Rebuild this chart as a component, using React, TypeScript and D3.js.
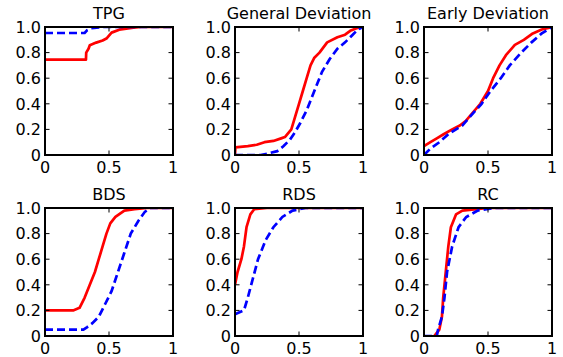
import React from "react";
import * as d3 from "d3";

const titles = ["TPG", "General Deviation", "Early Deviation", "BDS", "RDS", "RC"];
const xTicks = [0, 0.5, 1];
const xTickLabels = ["0", "0.5", "1"];
const yTicks = [0, 0.2, 0.4, 0.6, 0.8, 1.0];
const yTickLabels = ["0", "0.2", "0.4", "0.6", "0.8", "1.0"];

type P = [number, number];

const tpgRed: P[] = [[0, 0.745], [0.32, 0.745], [0.322, 0.8], [0.34, 0.83], [0.35, 0.857], [0.4, 0.878], [0.45, 0.895], [0.48, 0.91], [0.52, 0.956], [0.58, 0.979], [0.69, 0.995], [0.75, 1.0], [1, 1.0]];
const tpgBlue: P[] = [[0, 0.953], [0.31, 0.953], [0.33, 0.975], [0.36, 0.99], [0.45, 1.0], [1, 1.0]];

const gdRed: P[] = [[0, 0], [0.003, 0.06], [0.1, 0.07], [0.17, 0.08], [0.23, 0.1], [0.3, 0.11], [0.36, 0.13], [0.39, 0.14], [0.44, 0.2], [0.47, 0.3], [0.5, 0.4], [0.53, 0.5], [0.56, 0.6], [0.59, 0.7], [0.62, 0.76], [0.66, 0.8], [0.72, 0.88], [0.8, 0.92], [0.86, 0.94], [0.9, 0.97], [0.95, 0.99], [1, 1.0]];
const gdBlue: P[] = [[0, 0], [0.2, 0], [0.25, 0.01], [0.33, 0.03], [0.38, 0.07], [0.43, 0.12], [0.47, 0.18], [0.51, 0.25], [0.56, 0.35], [0.6, 0.45], [0.64, 0.55], [0.68, 0.65], [0.74, 0.75], [0.8, 0.83], [0.86, 0.88], [0.91, 0.93], [0.96, 0.98], [1, 1.0]];

const edRed: P[] = [[0, 0.07], [0.05, 0.1], [0.1, 0.13], [0.15, 0.16], [0.22, 0.2], [0.28, 0.23], [0.33, 0.27], [0.38, 0.33], [0.44, 0.4], [0.5, 0.5], [0.54, 0.6], [0.59, 0.7], [0.64, 0.78], [0.71, 0.86], [0.78, 0.9], [0.85, 0.95], [0.92, 0.98], [1, 1.0]];
const edBlue: P[] = [[0, 0], [0.05, 0.05], [0.12, 0.1], [0.2, 0.17], [0.3, 0.23], [0.36, 0.3], [0.45, 0.4], [0.52, 0.5], [0.6, 0.6], [0.67, 0.7], [0.76, 0.8], [0.84, 0.88], [0.92, 0.95], [1, 1.0]];

const bdsRed: P[] = [[0, 0.2], [0.22, 0.2], [0.27, 0.22], [0.31, 0.3], [0.35, 0.4], [0.39, 0.5], [0.42, 0.6], [0.45, 0.7], [0.48, 0.8], [0.51, 0.88], [0.55, 0.93], [0.62, 0.98], [0.7, 0.99], [0.8, 1.0], [1, 1.0]];
const bdsBlue: P[] = [[0, 0.05], [0.3, 0.05], [0.33, 0.07], [0.37, 0.1], [0.42, 0.15], [0.47, 0.25], [0.52, 0.35], [0.57, 0.5], [0.62, 0.65], [0.67, 0.8], [0.73, 0.9], [0.78, 0.97], [0.82, 1.0], [1, 1.0]];

const rdsRed: P[] = [[0, 0.4], [0.02, 0.5], [0.05, 0.6], [0.07, 0.7], [0.09, 0.85], [0.12, 0.95], [0.15, 0.99], [0.25, 1.0], [1, 1.0]];
const rdsBlue: P[] = [[0, 0.17], [0.07, 0.2], [0.1, 0.3], [0.14, 0.45], [0.18, 0.6], [0.24, 0.75], [0.3, 0.85], [0.37, 0.93], [0.45, 0.98], [0.55, 1.0], [1, 1.0]];

const rcRed: P[] = [[0.08, 0], [0.12, 0.05], [0.14, 0.15], [0.15, 0.3], [0.17, 0.5], [0.19, 0.7], [0.21, 0.85], [0.25, 0.95], [0.3, 0.98], [0.5, 1.0], [1, 1.0]];
const rcBlue: P[] = [[0, 0], [0.1, 0], [0.11, 0.05], [0.14, 0.15], [0.16, 0.3], [0.18, 0.5], [0.22, 0.7], [0.27, 0.85], [0.33, 0.93], [0.42, 0.98], [0.55, 1.0], [1, 1.0]];

const redSeries = [tpgRed, gdRed, edRed, bdsRed, rdsRed, rcRed];
const blueSeries = [tpgBlue, gdBlue, edBlue, bdsBlue, rdsBlue, rcBlue];

const lefts = [45, 235, 424];
const tops = [27, 208];
const SIZE = 128;
const FONT = "DejaVu Sans, sans-serif";
const FS = 16;

function Panel({ idx }: { idx: number }) {
  const col = idx % 3;
  const row = Math.floor(idx / 3);
  const x0 = lefts[col];
  const y0 = tops[row];
  const x = d3.scaleLinear().domain([0, 1]).range([x0, x0 + SIZE]);
  const y = d3.scaleLinear().domain([0, 1]).range([y0 + SIZE, y0]);
  const line = d3.line<P>().x((d) => x(d[0])).y((d) => y(d[1]));
  const clipId = `clip${idx}`;
  const tl = 4.5;
  return (
    <g>
      <defs>
        <clipPath id={clipId}>
          <rect x={x0} y={y0} width={SIZE} height={SIZE} />
        </clipPath>
      </defs>
      <g clipPath={`url(#${clipId})`}>
        <path d={line(redSeries[idx]) || ""} fill="none" stroke="#ff0000" strokeWidth={2.7} strokeLinejoin="round" />
        <path d={line(blueSeries[idx]) || ""} fill="none" stroke="#0000ff" strokeWidth={2.7} strokeDasharray="8,4" />
      </g>
      {xTicks.map((t, i) => (
        <g key={"x" + i}>
          <line x1={x(t)} x2={x(t)} y1={y0 + SIZE} y2={y0 + SIZE - tl} stroke="#000" strokeWidth={1} />
          <line x1={x(t)} x2={x(t)} y1={y0} y2={y0 + tl} stroke="#000" strokeWidth={1} />
          <text x={x(t)} y={y0 + SIZE + 18} textAnchor="middle" fontFamily={FONT} fontSize={FS}>
            {xTickLabels[i]}
          </text>
        </g>
      ))}
      {yTicks.map((t, i) => (
        <g key={"y" + i}>
          <line x1={x0} x2={x0 + tl} y1={y(t)} y2={y(t)} stroke="#000" strokeWidth={1} />
          <line x1={x0 + SIZE} x2={x0 + SIZE - tl} y1={y(t)} y2={y(t)} stroke="#000" strokeWidth={1} />
          <text x={x0 - 4} y={y(t)} dy="0.36em" textAnchor="end" fontFamily={FONT} fontSize={FS}>
            {yTickLabels[i]}
          </text>
        </g>
      ))}
      <rect x={x0} y={y0} width={SIZE} height={SIZE} fill="none" stroke="#000" strokeWidth={2} />
      <text x={x0 + SIZE / 2} y={y0 - 8} textAnchor="middle" fontFamily={FONT} fontSize={FS}>
        {titles[idx]}
      </text>
    </g>
  );
}

export default function App() {
  return (
    <svg width={563} height={357} style={{ position: "absolute", left: 0, top: 0, background: "#fff" }}>
      <rect width={563} height={357} fill="#fff" />
      {titles.map((_, i) => (
        <Panel key={i} idx={i} />
      ))}
    </svg>
  );
}
